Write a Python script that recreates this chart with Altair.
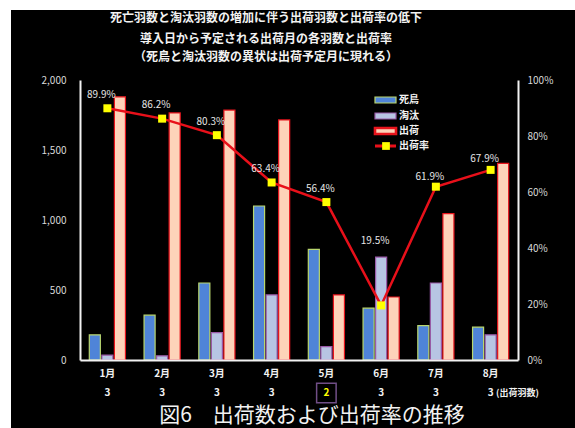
import altair as alt
import pandas as pd

# ---------------- data ----------------
months = ["1月", "2月", "3月", "4月", "5月", "6月", "7月", "8月"]
dead = [180, 320, 550, 1100, 790, 370, 245, 235]          # 死鳥
culled = [35, 30, 195, 465, 95, 735, 550, 180]            # 淘汰
shipped = [1880, 1765, 1785, 1715, 465, 450, 1045, 1405]  # 出荷
rate = [89.9, 86.2, 80.3, 63.4, 56.4, 19.5, 61.9, 67.9]   # 出荷率 (%)
ship_count = [3, 3, 3, 3, 2, 3, 3, 3]                     # 出荷羽数 row
series_names = ["死鳥", "淘汰", "出荷"]
title_lines = [
    "死亡羽数と淘汰羽数の増加に伴う出荷羽数と出荷率の低下",
    "導入日から予定される出荷月の各羽数と出荷率",
    "（死鳥と淘汰羽数の異状は出荷予定月に現れる）",
]
figure_caption = "図6　出荷数および出荷率の推移"

# style: how far (in % units) each rate label sits above its point
label_lift = [4.8, 4.8, 4.8, 4.8, 4.8, 23.0, 3.5, 3.8]

FONT = "Noto Sans CJK JP"
WHITE = "#f2f2f2"

bars_df = pd.DataFrame({
    "month": months * 3,
    "series": [s for s in series_names for _ in months],
    "value": dead + culled + shipped,
})
rate_df = pd.DataFrame({
    "month": months,
    "rate": rate,
    "label": [f"{r:.1f}%" for r in rate],
    "label_y": [r + l for r, l in zip(rate, label_lift)],
    "count": ship_count,
})
one = pd.DataFrame({"k": [0]})

x_enc = alt.X(
    "month:N", sort=months, title=None,
    scale=alt.Scale(paddingInner=0.34, paddingOuter=0.17),
    axis=alt.Axis(labelAngle=0, labelColor=WHITE, labelFont=FONT, labelFontSize=10,
                  labelFontWeight="bold", labelPadding=8, domainColor=WHITE,
                  domainWidth=2, ticks=False, grid=False, zindex=1),
)

# background
bg = alt.Chart(one).mark_rect(color="black").encode(
    x=alt.value(-69), x2=alt.value(495), y=alt.value(-70), y2=alt.value(348)
)

bars = alt.Chart(bars_df).mark_bar().encode(
    x=x_enc,
    xOffset=alt.XOffset("series:N", sort=series_names,
                        scale=alt.Scale(domain=series_names, paddingInner=0.12)),
    y=alt.Y("value:Q", title=None,
            scale=alt.Scale(domain=[0, 2000], nice=False),
            axis=alt.Axis(orient="left", values=[0, 500, 1000, 1500, 2000],
                          labelExpr="format(datum.value, ',.0f')",
                          labelColor="#d9d9d9", labelFont=FONT, labelFontSize=10,
                          labelPadding=14, ticks=False, domainColor=WHITE,
                          domainWidth=2, grid=False, zindex=1)),
    fill=alt.Fill("series:N", legend=None,
                  scale=alt.Scale(domain=series_names,
                                  range=["#4f84d8", "#b7c5e3", "#fdd3b9"])),
    stroke=alt.Stroke("series:N", legend=None,
                      scale=alt.Scale(domain=series_names,
                                      range=["#b9d66e", "#9a5aa8", "#e8141c"])),
    strokeWidth=alt.StrokeWidth("series:N", legend=None,
                                scale=alt.Scale(domain=series_names, range=[1.2, 1.2, 2.6])),
)

rate_y_axis = alt.Y(
    "rate:Q", title=None, scale=alt.Scale(domain=[0, 100], nice=False),
    axis=alt.Axis(orient="right", values=[0, 20, 40, 60, 80, 100],
                  labelExpr="datum.value + '%'", labelColor="#d9d9d9", labelFont=FONT,
                  labelFontSize=10, labelPadding=9, ticks=False, domainColor=WHITE,
                  domainWidth=2, grid=False, zindex=1),
)
rate_y_plain = alt.Y("rate:Q", scale=alt.Scale(domain=[0, 100], nice=False), axis=None)

line = alt.Chart(rate_df).mark_line(color="#e8101a", strokeWidth=2.5).encode(
    x=alt.X("month:N", sort=months), y=rate_y_axis
)
points = alt.Chart(rate_df).mark_square(color="#ffff00", size=64, opacity=1).encode(
    x=alt.X("month:N", sort=months), y=rate_y_plain
)
rate_labels = alt.Chart(rate_df).mark_text(
    color="#e6e6e6", font=FONT, fontSize=10, dx=-6, baseline="middle"
).encode(
    x=alt.X("month:N", sort=months),
    y=alt.Y("label_y:Q", scale=alt.Scale(domain=[0, 100], nice=False), axis=None),
    text="label:N",
)

counts = alt.Chart(rate_df).mark_text(
    font=FONT, fontSize=10, fontWeight="bold", baseline="middle"
).encode(
    x=alt.X("month:N", sort=months),
    y=alt.value(313),
    text="count:N",
    color=alt.condition("datum.count == 2", alt.value("#ffff00"), alt.value(WHITE)),
)
count_box = alt.Chart(rate_df).transform_filter("datum.count == 2").mark_point(
    shape="square", filled=False, color="#a070c0", strokeWidth=1.5, size=380
).encode(x=alt.X("month:N", sort=months), y=alt.value(313))
count_note = alt.Chart(one).mark_text(
    color=WHITE, font=FONT, fontSize=9, fontWeight="bold", align="left", baseline="middle"
).encode(x=alt.value(416), y=alt.value(313), text=alt.value("(出荷羽数)"))

# titles
title_layers = []
for txt, yy in zip(title_lines, [-62, -41, -23]):
    title_layers.append(
        alt.Chart(one).mark_text(color=WHITE, font=FONT, fontSize=12, fontWeight="bold",
                                 baseline="middle", align="center")
        .encode(x=alt.value(186), y=alt.value(yy), text=alt.value(txt))
    )
caption = alt.Chart(one).mark_text(
    color=WHITE, font=FONT, fontSize=21, baseline="middle", align="center"
).encode(x=alt.value(232), y=alt.value(336), text=alt.value(figure_caption))

# legend (drawn by hand)
leg_fill = ["#4f84d8", "#b7c5e3", "#fdd3b9"]
leg_stroke = ["#b9d66e", "#9a5aa8", "#e8141c"]
leg_sw = [1.2, 1.2, 2.6]
leg_y = [20, 36, 51, 66]
legend_layers = []
for i, name in enumerate(series_names):
    legend_layers.append(
        alt.Chart(one).mark_rect(fill=leg_fill[i], stroke=leg_stroke[i], strokeWidth=leg_sw[i])
        .encode(x=alt.value(295), x2=alt.value(316),
                y=alt.value(leg_y[i] - 3), y2=alt.value(leg_y[i] + 3))
    )
legend_layers.append(
    alt.Chart(one).mark_rule(color="#e8101a", strokeWidth=3)
    .encode(x=alt.value(295), x2=alt.value(316), y=alt.value(leg_y[3]))
)
legend_layers.append(
    alt.Chart(one).mark_square(color="#ffff00", size=60, opacity=1)
    .encode(x=alt.value(306), y=alt.value(leg_y[3]))
)
for name, yy in zip(series_names + ["出荷率"], leg_y):
    legend_layers.append(
        alt.Chart(one).mark_text(color=WHITE, font=FONT, fontSize=10, fontWeight="bold",
                                 align="left", baseline="middle")
        .encode(x=alt.value(319), y=alt.value(yy), text=alt.value(name))
    )

chart = alt.layer(
    bg, bars, line, points, rate_labels, counts, count_box, count_note,
    *title_layers, caption, *legend_layers
).resolve_scale(
    y="independent"
).properties(
    width=438, height=280,
    autosize=alt.AutoSizeParams(type="none"),
    padding={"left": 80, "top": 80, "right": 57, "bottom": 68},
    background="white",
).configure_view(stroke=None)

chart.save("out.html", embed_options={"renderer": "svg", "actions": False})
